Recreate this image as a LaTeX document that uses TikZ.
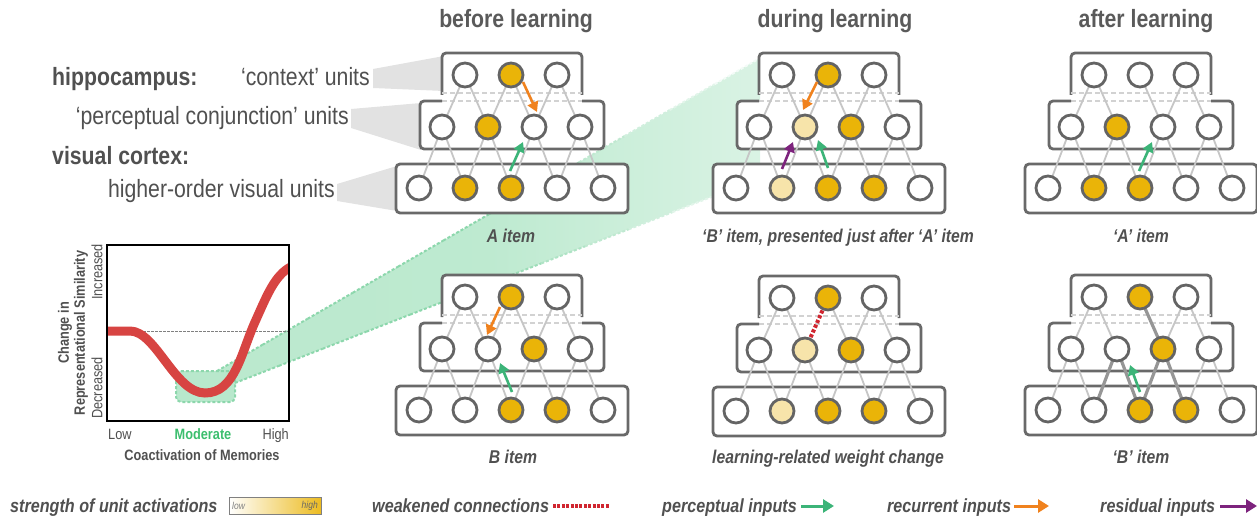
\documentclass[tikz,border=0pt]{standalone}
\usepackage{fontspec}
\setmainfont{Liberation Sans}[FakeStretch=0.85]
\usetikzlibrary{arrows.meta,calc}

\definecolor{gold}{RGB}{234,180,8}
\definecolor{pale}{RGB}{247,228,170}
\definecolor{boxgray}{RGB}{105,105,105}
\definecolor{unitedge}{RGB}{100,100,100}
\definecolor{linkgray}{RGB}{198,198,198}
\definecolor{strongray}{RGB}{150,150,150}
\definecolor{sepgray}{RGB}{210,210,210}
\definecolor{txtgray}{RGB}{80,80,80}
\definecolor{hdrgray}{RGB}{90,90,90}
\definecolor{funnel}{RGB}{226,226,226}
\definecolor{pgreen}{RGB}{60,180,120}
\definecolor{rorange}{RGB}{240,130,30}
\definecolor{rpurple}{RGB}{125,35,125}
\definecolor{wred}{RGB}{208,38,48}
\definecolor{curvered}{RGB}{215,68,66}
\definecolor{mgreen}{RGB}{184,232,204}
\definecolor{mgreenline}{RGB}{140,215,172}
\definecolor{modtext}{RGB}{60,190,110}

% green projection: solid on the left, thinning out to white on the right
\pgfdeclarehorizontalshading{beamshade}{100bp}{color(0bp)=(mgreen); color(50bp)=(mgreen!92!white); color(80bp)=(mgreen!45!white); color(100bp)=(white)}

\pgfdeclarelayer{beamlayer}
\pgfdeclarelayer{boxlayer}
\pgfdeclarelayer{linklayer}
\pgfsetlayers{beamlayer,boxlayer,linklayer,main}

\tikzset{
  unit/.style={circle, minimum size=24pt, inner sep=0pt, line width=2.8pt, draw=unitedge},
  boxline/.style={draw=boxgray, line width=2.8pt, rounded corners=4pt},
  sepline/.style={draw=sepgray, line width=2.4pt, dash pattern=on 5pt off 3pt},
  link/.style={draw=linkgray, line width=1.8pt},
  stronglink/.style={draw=strongray, line width=3.2pt},
  inarrow/.style={line width=2.6pt, -{Triangle[length=10pt,width=11pt]}},
  weakline/.style={draw=wred, line width=4pt, dash pattern=on 3.2pt off 2pt},
  beamedge/.style={line width=2pt, dash pattern=on 3pt off 2pt},
  hdr/.style={inner sep=0pt, font=\fontsize{25}{30}\selectfont\bfseries, text=hdrgray},
  lbl/.style={inner sep=0pt, font=\fontsize{25}{30}\selectfont, text=txtgray},
  lblb/.style={inner sep=0pt, font=\fontsize{25}{30}\selectfont\bfseries, text=txtgray},
  itemlbl/.style={inner sep=0pt, font=\fontsize{18.5}{22}\selectfont\bfseries\itshape, text=txtgray},
  leg/.style={inner sep=0pt, font=\fontsize{19}{23}\selectfont\bfseries\itshape, text=txtgray},
  axlbl/.style={inner sep=0pt, font=\fontsize{15}{18}\selectfont, text=txtgray},
  axlblb/.style={inner sep=0pt, font=\fontsize{15}{18}\selectfont\bfseries, text=txtgray},
}

% one three-layer network: name prefix, centre x, y of the context row, fills per row
\newcommand{\netpanel}[6]{%
  \begin{pgfonlayer}{boxlayer}
    \begin{scope}[shift={(#2+1,#3)}]
      \fill[white, rounded corners=4pt] (-70,-22) rectangle (70,20);
      \fill[white, rounded corners=4pt] (-92,26) rectangle (92,74);
      \fill[white, rounded corners=4pt] (-116,89) rectangle (116,138);
      \draw[boxline] (-70,20) -- (-70,-22) -- (70,-22) -- (70,20);
      \draw[sepline] (-70,18) -- (70,18);
      \draw[sepline] (-70,26) -- (70,26);
      \draw[boxline] (-70,26) -- (-92,26) -- (-92,74) -- (92,74) -- (92,26) -- (70,26);
      \draw[boxline] (-116,89) rectangle (116,138);
    \end{scope}
  \end{pgfonlayer}
  \foreach \c [count=\i] in {#4} \node[unit, fill=\c] (#1t\i) at ({#2+(\i-2)*46},#3) {};
  \foreach \c [count=\i] in {#5} \node[unit, fill=\c] (#1m\i) at ({#2+(\i-2.5)*46},{#3+52}) {};
  \foreach \c [count=\i] in {#6} \node[unit, fill=\c] (#1b\i) at ({#2+(\i-3)*46},{#3+113}) {};
}

% connections between the units of one network
\newcommand{\netlinks}[3]{%
  \edef\nlist{#3}%
  \begin{pgfonlayer}{linklayer}
    \foreach \a/\b in \nlist \draw[#2] (#1\a.center) -- (#1\b.center);
  \end{pgfonlayer}
}
\newcommand{\alllinks}{t1/m1,t1/m2,t2/m2,t2/m3,t3/m3,t3/m4,m1/b1,m1/b2,m2/b2,m2/b3,m3/b3,m3/b4,m4/b4,m4/b5}

\begin{document}
\begin{tikzpicture}[x=1pt,y=-1pt]
\useasboundingbox (0,0) rectangle (1257,518);

% ---------- column headers ----------
\node[hdr, anchor=base] (h1) at (516,28) {before learning};
\node[hdr, anchor=base] (h2) at (835,28) {during learning};
\node[hdr, anchor=base] (h3) at (1146,28) {after learning};

% ---------- layer labels with their funnels ----------
\node[lblb, anchor=base west] (lhip) at (52,86) {hippocampus:};
\node[lbl, anchor=base east] (lctx) at (370,86) {‘context’ units};
\node[lbl, anchor=base east] (lpc) at (349,125) {‘perceptual conjunction’ units};
\node[lblb, anchor=base west] (lvc) at (52,165) {visual cortex:};
\node[lbl, anchor=base east] (lho) at (335,198) {higher-order visual units};

\begin{pgfonlayer}{beamlayer}
  \fill[funnel] (373,69) -- (444,56) -- (444,91) -- (373,88) -- cycle;
  \fill[funnel] (351,109) -- (421,103) -- (421,150) -- (351,128) -- cycle;
  \fill[funnel] (337,184) -- (397,166) -- (397,211) -- (337,201) -- cycle;
\end{pgfonlayer}

% ---------- networks ----------
\netpanel{A}{511}{75}{white,gold,white}{white,gold,white,white}{white,gold,gold,white,white}
\netlinks{A}{link}{\alllinks}
\netpanel{D}{828}{75}{white,gold,white}{white,pale,gold,white}{white,pale,gold,gold,white}
\netlinks{D}{link}{\alllinks}
\netpanel{P}{1140}{75}{white,white,white}{white,gold,white,white}{white,gold,gold,white,white}
\netlinks{P}{link}{t1/m1,t1/m2,t2/m3,t3/m3,t3/m4,m1/b1,m1/b2,m2/b2,m2/b3,m3/b3,m3/b4,m4/b4,m4/b5}
\netpanel{B}{511}{297}{white,gold,white}{white,white,gold,white}{white,white,gold,gold,white}
\netlinks{B}{link}{\alllinks}
\netpanel{W}{828}{298}{white,gold,white}{white,pale,gold,white}{white,pale,gold,gold,white}
\netlinks{W}{link}{t1/m1,t1/m2,t2/m3,t3/m3,t3/m4,m1/b1,m1/b2,m2/b2,m2/b3,m3/b3,m3/b4,m4/b4,m4/b5}
\netpanel{Q}{1140}{297}{white,gold,white}{white,white,gold,white}{white,white,gold,gold,white}
\netlinks{Q}{link}{t1/m1,t1/m2,t3/m3,t3/m4,m1/b1,m1/b2,m4/b4,m4/b5}
\netlinks{Q}{stronglink}{t2/m3,m2/b2,m2/b3,m3/b3,m3/b4}

% inputs reaching the units
\draw[inarrow, rorange] ($(At2)+(12,7)$) -- ($(Am3)+(3,-15)$);
\draw[inarrow, pgreen] ($(Ab3)+(-1,-17)$) -- ($(Am3)+(-11,15)$);
\draw[inarrow, rorange] ($(Dt2)+(-11,7)$) -- ($(Dm2)+(-2,-17)$);
\draw[inarrow, rpurple] ($(Db2)+(0,-19)$) -- ($(Dm2)+(-12,15)$);
\draw[inarrow, pgreen] ($(Db3)+(0,-20)$) -- ($(Dm2)+(13,13)$);
\draw[inarrow, pgreen] ($(Pb3)+(-1,-17)$) -- ($(Pm3)+(-11,15)$);
\draw[inarrow, rorange] ($(Bt2)+(-11,10)$) -- ($(Bm2)+(-1,-14)$);
\draw[inarrow, pgreen] ($(Bb3)+(1,-18)$) -- ($(Bm2)+(12,14)$);
\draw[inarrow, pgreen] ($(Qb3)+(0,-18)$) -- ($(Qm2)+(13,16)$);
\begin{pgfonlayer}{linklayer}
  \draw[weakline] ($(Wt2)!0.24!(Wm2)$) -- ($(Wt2)!0.76!(Wm2)$);
\end{pgfonlayer}

% item captions
\node[itemlbl, anchor=base] (cA) at (511,243) {A item};
\node[itemlbl, anchor=base] (cD) at (838,243) {‘B’ item, presented just after ‘A’ item};
\node[itemlbl, anchor=base] (cP) at (1141,243) {‘A’ item};
\node[itemlbl, anchor=base] (cB) at (513,463) {B item};
\node[itemlbl, anchor=base] (cW) at (828,463) {learning-related weight change};
\node[itemlbl, anchor=base] (cQ) at (1141,463) {‘B’ item};

% ---------- graph: change in similarity vs. coactivation ----------
\coordinate (bu0) at (217,371);
\coordinate (bu1) at (760,58);
\coordinate (bl0) at (235,383);
\coordinate (bl1) at (760,178);
\begin{pgfonlayer}{beamlayer}
  \shade[shading=beamshade] (bu0) -- (bu1) -- (bl1) -- (bl0) -- cycle;
  % dashed rims, paling towards the far end
  \foreach \k in {0,...,11} {
    \pgfmathsetmacro\fa{\k/12}
    \pgfmathsetmacro\fb{(\k+1)/12}
    \pgfmathtruncatemacro\pc{\k<6 ? 100 : 100-(\k-5)*15}
    \draw[beamedge, draw=mgreenline!\pc!white] ($(bu0)!\fa!(bu1)$) -- ($(bu0)!\fb!(bu1)$);
    \draw[beamedge, draw=mgreenline!\pc!white] ($(bl0)!\fa!(bl1)$) -- ($(bl0)!\fb!(bl1)$);
  }
  \draw[beamedge, draw=mgreenline, fill=mgreen, rounded corners=5pt]
    (176,371) rectangle (235,402);
\end{pgfonlayer}
\draw[gray, line width=0.8pt, dash pattern=on 2.5pt off 1.5pt] (107,331) -- (289,331);
\begin{scope}
  \clip (107,245) rectangle (289,421);
  \draw[curvered, line width=9pt] (100,331) -- (130,331)
    .. controls (156,331) and (175,393) .. (205,393)
    .. controls (235,393) and (241,353) .. (255,322)
    .. controls (268,293) and (276,272) .. (295,265);
\end{scope}
\draw[black, line width=1.5pt] (107,245) rectangle (289,421);

\node[axlbl, rotate=90] (inc) at (97,272) {Increased};
\node[axlbl, rotate=90] (dec) at (97,388) {Decreased};
\node[axlblb, rotate=90] (ch1) at (65,333) {Change in};
\node[axlblb, rotate=90] (ch2) at (81,333) {Representational Similarity};
\node[axlbl, anchor=base west] (xlo) at (108,439) {Low};
\node[axlblb, anchor=base, text=modtext] (xmo) at (203,439) {Moderate};
\node[axlbl, anchor=base east] (xhi) at (289,439) {High};
\node[axlblb, anchor=base] (xt) at (202,460) {Coactivation of Memories};

% ---------- legend ----------
\node[leg, anchor=base west] (g1) at (10,512) {strength of unit activations};
\shade[left color=white, right color=gold!90] (229,497) rectangle (321,514);
\draw[gray, line width=1pt] (229,497) rectangle (321,514);
\node[inner sep=0pt, anchor=west, font=\fontsize{10}{12}\selectfont\itshape, text=gray] (glo) at (232,506) {low};
\node[inner sep=0pt, anchor=east, font=\fontsize{10}{12}\selectfont\itshape, text=gray!80!black] (ghi) at (318,506) {high};

\node[leg, anchor=base west] (g2) at (372,512) {weakened connections};
\coordinate (w1) at (553,506);
\coordinate (w2) at (610,506);
\draw[weakline, line width=3.2pt, dash pattern=on 3pt off 1.4pt] (w1) -- (w2);

\node[leg, anchor=base west] (g3) at (662,512) {perceptual inputs};
\coordinate (pa1) at (801,506);
\coordinate (pa2) at (834,506);
\draw[pgreen, line width=3pt, -{Triangle[length=11pt,width=13pt]}] (pa1) -- (pa2);

\node[leg, anchor=base west] (g4) at (887,512) {recurrent inputs};
\coordinate (ra1) at (1014,506);
\coordinate (ra2) at (1049,506);
\draw[rorange, line width=3pt, -{Triangle[length=11pt,width=13pt]}] (ra1) -- (ra2);

\node[leg, anchor=base west] (g5) at (1100,512) {residual inputs};
\coordinate (sa1) at (1220,506);
\coordinate (sa2) at (1257,506);
\draw[rpurple, line width=3pt, -{Triangle[length=11pt,width=13pt]}] (sa1) -- (sa2);

\end{tikzpicture}
\end{document}
